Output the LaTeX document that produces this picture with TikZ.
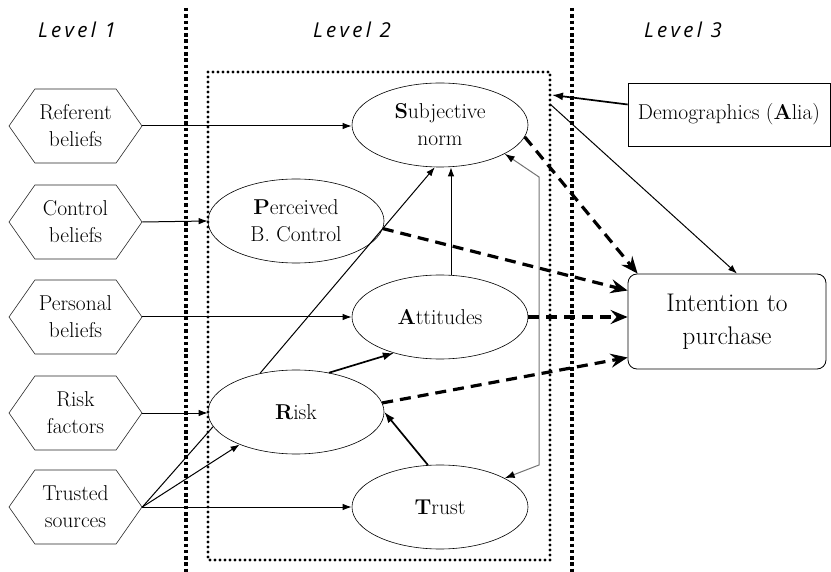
\documentclass[tikz,border=0pt]{standalone}
\usepackage{fontspec}
\newfontfamily\lvlfont[LetterSpace=16]{Open Sans}
\usetikzlibrary{arrows.meta,shapes.symbols,shapes.geometric}
\begin{document}
\begin{tikzpicture}[x=1pt,y=-1pt,
  hexnode/.style={signal, signal to=west and east, signal pointer angle=110, draw=black!85, line width=0.6pt,
    minimum width=133pt, minimum height=74pt, inner sep=0pt, align=center, font=\fontsize{21.5}{27}\selectfont},
  ell/.style={ellipse, draw, line width=0.6pt, minimum width=176pt, minimum height=84pt, inner sep=0pt,
    align=center, font=\fontsize{21.5}{27}\selectfont},
  lvl/.style={font=\lvlfont\itshape\fontsize{20.5}{24}\selectfont},
  thin/.style={line width=1pt, -{Latex[length=9pt,width=6.5pt]}},
  med/.style={line width=1.7pt, -{Latex[length=11pt,width=8pt]}},
  dsh/.style={line width=3.2pt, dash pattern=on 11pt off 7pt, -{Stealth[length=17pt,width=14pt,inset=6pt]}},
  sqdot/.style={line width=3.5pt, dash pattern=on 3.5pt off 2.8pt},
  rdot/.style={line width=3.3pt, line cap=round, dash pattern=on 0pt off 5pt},
  fb/.style={draw=black!55, line width=1pt, {Latex[length=10pt,width=7pt,color=black]}-{Latex[length=10pt,width=7pt,color=black]}}
]
\useasboundingbox (0,0) rectangle (831,572);

% separators and level box
\coordinate (s1t) at (186,8); \coordinate (s1b) at (186,572);
\coordinate (s2t) at (572,8); \coordinate (s2b) at (572,572);
\draw[sqdot] (s1t) -- (s1b);
\draw[sqdot] (s2t) -- (s2b);
\coordinate (bx1) at (208,72); \coordinate (bx2) at (550,560);
\draw[rdot] (bx1) rectangle (bx2);

% level labels
\node[lvl] (l1) at (77,30) {Level 1};
\node[lvl] (l2) at (352,30) {Level 2};
\node[lvl] (l3) at (683,30) {Level 3};

% level 1
\node[hexnode] (ref) at (75.5,126) {Referent\\beliefs};
\node[hexnode] (ctl) at (75.5,222) {Control\\beliefs};
\node[hexnode] (per) at (75.5,317) {Personal\\beliefs};
\node[hexnode] (rf)  at (75.5,413) {Risk\\factors};
\node[hexnode] (ts)  at (75.5,507) {Trusted\\sources};

% level 2
\node[ell] (sn)    at (440,125) {\textbf{S}ubjective\\norm};
\node[ell] (pbc)   at (296,221) {\textbf{P}erceived\\B. Control};
\node[ell] (att)   at (440,317) {\textbf{A}ttitudes};
\node[ell] (risk)  at (296,412) {\textbf{R}isk};
\node[ell] (trust) at (440,507) {\textbf{T}rust};

% level 3
\node[draw, line width=0.6pt, minimum width=202pt, minimum height=63pt, inner sep=0pt,
  font=\fontsize{21.5}{27}\selectfont] (demo) at (729,114.5) {Demographics (\textbf{A}lia)};
\node[draw, line width=0.8pt, rounded corners=9pt, minimum width=198pt, minimum height=95pt, inner sep=0pt,
  align=center, font=\fontsize{25.5}{33}\selectfont] (int) at (727,321.5) {Intention to\\purchase};

% level 1 -> level 2
\draw[thin] (ref.east) -- (ref.east -| sn.west);
\draw[thin] (ctl.east) -- (pbc.west);
\draw[thin] (per.east) -- (per.east -| att.west);
\draw[thin] (rf.east) -- (rf.east -| risk.west);
\draw[line width=1pt] (ts.east) -- (risk.190);
\draw[thin] (ts.east) -- (risk.210);
\draw[thin] (ts.east) -- (ts.east -| trust.west);

% within level 2
\draw[thin] (risk.133) -- (sn.263);
\draw[thin] ([xshift=11pt]att.north) -- ([xshift=11pt]sn.south);
\draw[med] (risk.50) -- (att.218);
\draw[med] (trust.106) -- (risk.east);
\coordinate (fb1) at (539,177);
\coordinate (fb2) at (539,465);
\draw[fb] (sn.-24) -- (fb1) -- (fb2) -- (trust.24);

% level 2 -> level 3
\draw[dsh] (sn.-8) -- ([xshift=10pt]int.north west);
\draw[dsh] (pbc.-5) -- ([yshift=31pt]int.west);
\draw[dsh] (att.east) -- (att.east -| int.west);
\draw[dsh] (risk.6) -- ([yshift=-36pt]int.west);

% demographics
\coordinate (dm1) at (552,95);
\coordinate (dm2) at (550,104);
\draw[med] ([yshift=10pt]demo.west) -- (dm1);
\draw[thin] (dm2) -- ([xshift=10pt]int.north);
\end{tikzpicture}
\end{document}
